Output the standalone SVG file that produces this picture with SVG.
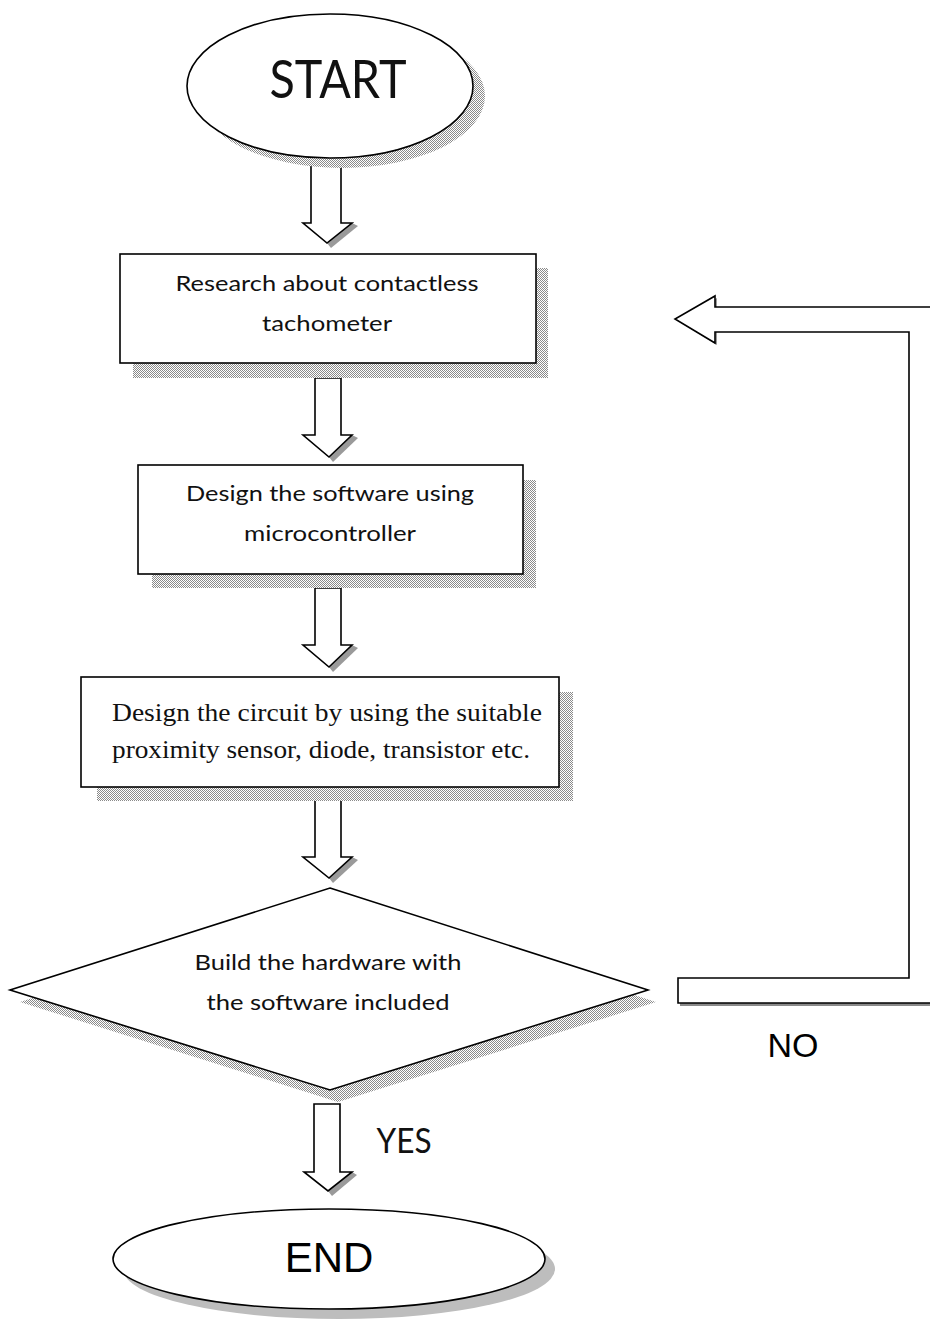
<svg xmlns="http://www.w3.org/2000/svg" width="930" height="1319" viewBox="0 0 930 1319">
<defs>
<pattern id="dots" width="2" height="2" patternUnits="userSpaceOnUse">
<rect width="2" height="2" fill="#ffffff"/>
<rect width="1" height="1" fill="#8a8a8a"/>
<rect x="1" y="1" width="1" height="1" fill="#8a8a8a"/>
</pattern>
</defs>
<style>
.shape{fill:#ffffff;stroke:#000000;stroke-width:1.6}
.shadow{fill:url(#dots);stroke:none}
.hshadow{fill:#9a9a9a;stroke:none}
.cal{font-family:Lato,"Open Sans",sans-serif;font-size:22px;fill:#111;text-anchor:middle}
.tms{font-family:"Liberation Serif",serif;font-size:26px;fill:#111}
.ari{font-family:"Liberation Sans",Arial,sans-serif;fill:#000;text-anchor:middle}
</style>
<rect width="930" height="1319" fill="#ffffff"/>

<g id="connectors">
<g id="arrow1">
<polygon class="hshadow" points="352,223 358,226 331,248 327,243"/>
<path class="shape" d="M311,165 L341,165 L341,223 L352,223 L327,243 L303,223 L311,223 Z"/>
</g>
<g id="arrow2">
<polygon class="hshadow" points="352,435 358,438 333,462 329,457"/>
<path class="shape" d="M315,378 L341,378 L341,435 L352,435 L329,457 L303,435 L315,435 Z"/>
</g>
<g id="arrow3">
<polygon class="hshadow" points="352,645 358,648 333,672 329,667"/>
<path class="shape" d="M315,588 L341,588 L341,645 L352,645 L329,667 L303,645 L315,645 Z"/>
</g>
<g id="arrow4">
<polygon class="hshadow" points="352,857 358,860 333,883 329,878"/>
<path class="shape" d="M315,800 L341,800 L341,857 L352,857 L329,878 L303,857 L315,857 Z"/>
</g>
<g id="arrow5">
<polygon class="hshadow" points="352,1172 357,1175 332,1196 328,1191"/>
<path class="shape" d="M314,1104 L340,1104 L340,1172 L352,1172 L328,1191 L304,1172 L314,1172 Z"/>
</g>
<g id="feedback">
<path d="M680,1003 L935,1003 L935,1006 L680,1006 Z" fill="#8a8a8a"/>
<path d="M717,309 L717,298 L678,321 L717,345 Z" fill="#9a9a9a"/>
<path class="shape" d="M935,307 L715,307 L715,296 L675,319 L715,343 L715,332 L909,332 L909,978 L678,978 L678,1003 L935,1003"/>
</g>
</g>

<g id="start">
<ellipse class="shadow" cx="342" cy="96" rx="143" ry="72"/>
<ellipse class="shape" cx="330" cy="86" rx="143" ry="72"/>
<text class="cal" x="338" y="98" style="font-size:52px" textLength="137" lengthAdjust="spacingAndGlyphs">START</text>
</g>

<g id="research">
<rect class="shadow" x="133" y="268" width="415" height="110"/>
<rect class="shape" x="120" y="254" width="416" height="109"/>
<text class="cal" x="327" y="291" textLength="303" lengthAdjust="spacingAndGlyphs">Research about contactless</text>
<text class="cal" x="327" y="331" textLength="130" lengthAdjust="spacingAndGlyphs">tachometer</text>
</g>

<g id="software">
<rect class="shadow" x="152" y="480" width="384" height="108"/>
<rect class="shape" x="138" y="465" width="385" height="109"/>
<text class="cal" x="330" y="501" textLength="288" lengthAdjust="spacingAndGlyphs">Design the software using</text>
<text class="cal" x="330" y="541" textLength="172" lengthAdjust="spacingAndGlyphs">microcontroller</text>
</g>

<g id="circuit">
<rect class="shadow" x="97" y="692" width="476" height="109"/>
<rect class="shape" x="81" y="677" width="478" height="110"/>
<text class="tms" x="112" y="721" textLength="430" lengthAdjust="spacingAndGlyphs">Design the circuit by using the suitable</text>
<text class="tms" x="112" y="758" textLength="418" lengthAdjust="spacingAndGlyphs">proximity sensor, diode, transistor etc.</text>
</g>

<g id="decision">
<polygon class="shadow" points="338,900 656,1002 338,1102 20,1002"/>
<polygon class="shape" points="330,888 648,990 330,1090 10,990"/>
<text class="cal" x="328" y="970" textLength="267" lengthAdjust="spacingAndGlyphs">Build the hardware with</text>
<text class="cal" x="328" y="1010" textLength="243" lengthAdjust="spacingAndGlyphs">the software included</text>
</g>

<g id="labels">
<text class="ari" x="793" y="1057" font-size="34">NO</text>
<text class="cal" x="404" y="1153" style="font-size:34px" textLength="55" lengthAdjust="spacingAndGlyphs">YES</text>
</g>

<g id="end">
<ellipse cx="339" cy="1269" rx="216" ry="50" fill="#bdbdbd"/>
<ellipse class="shape" cx="329" cy="1259" rx="216" ry="50"/>
<text class="ari" x="329" y="1272" font-size="42">END</text>
</g>
</svg>
